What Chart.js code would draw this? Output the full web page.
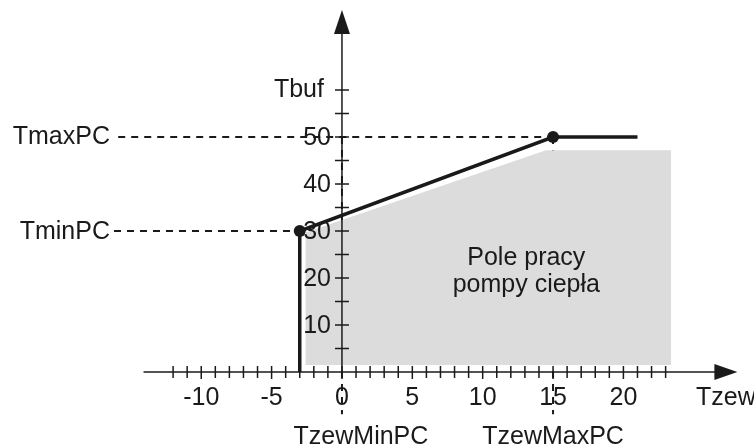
<!DOCTYPE html>
<html lang="pl">
<head>
    <meta charset="UTF-8">
    <title>Pole pracy pompy ciepła</title>
    <script src="https://cdn.jsdelivr.net/npm/chart.js"></script>
    <style>
        body { margin: 0; background: #fff; }
        #wrap { width: 754px; height: 448px; }
    </style>
</head>
<body>
    <div id="wrap">
        <canvas id="heatChart"></canvas>
    </div>

    <script>
        // values
        var xTickLabels = [-10, -5, 0, 5, 10, 15, 20];
        var yTickLabels = [10, 20, 30, 40, 50];
        var xMinorFrom = -12, xMinorTo = 23;   // one tick per degree
        var yMinorStep = 5, yMinorTo = 60;

        // heating curve: Tbuf as function of Tzew
        var curveX = [-3, -3, 15, 21];
        var curveY = [0, 30, 50, 50];

        // working area of the heat pump (grey field)
        var fieldX = [-2.6, 14.5, 23.4];
        var fieldY = [29.7, 47.2, 47.2];
        var fieldBase = 1.5;

        var tMaxPC = 50, tMinPC = 30;
        var tzewMinPC = 0, tzewMaxPC = 15;

        function pts(xs, ys) {
            return xs.map(function (x, i) { return { x: x, y: ys[i] }; });
        }

        var font = '"Liberation Sans", Arial, sans-serif';

        // axes with arrows, crossing ticks and labels
        var axesPlugin = {
            id: 'axes',
            afterDatasetsDraw: function (chart) {
                var c = chart.ctx, xs = chart.scales.x, ys = chart.scales.y;
                var x0 = xs.getPixelForValue(0), y0 = ys.getPixelForValue(0);
                c.save();
                c.strokeStyle = '#1a1a1a';
                c.fillStyle = '#1a1a1a';
                c.lineWidth = 1.5;

                // x axis
                var xa = xs.getPixelForValue(-14.1), xb = xs.getPixelForValue(28.1);
                c.beginPath(); c.moveTo(xa, y0); c.lineTo(xb - 20, y0); c.stroke();
                c.beginPath(); c.moveTo(xb, y0); c.lineTo(xb - 23, y0 - 8); c.lineTo(xb - 23, y0 + 8); c.closePath(); c.fill();
                for (var v = xMinorFrom; v <= xMinorTo; v++) {
                    var px = xs.getPixelForValue(v);
                    var len = (v % 5 === 0) ? 7 : 6;
                    c.beginPath(); c.moveTo(px, y0 - 6); c.lineTo(px, y0 + len); c.stroke();
                }

                // y axis
                var yt = ys.getPixelForValue(77);
                c.beginPath(); c.moveTo(x0, y0); c.lineTo(x0, yt + 20); c.stroke();
                c.beginPath(); c.moveTo(x0, yt); c.lineTo(x0 - 8, yt + 24); c.lineTo(x0 + 8, yt + 24); c.closePath(); c.fill();
                for (var w = yMinorStep; w <= yMinorTo; w += yMinorStep) {
                    var py = ys.getPixelForValue(w);
                    c.beginPath(); c.moveTo(x0 - 7, py); c.lineTo(x0 + 7, py); c.stroke();
                }

                // tick labels
                c.font = '25px ' + font;
                c.textBaseline = 'middle';
                c.textAlign = 'center';
                xTickLabels.forEach(function (t) {
                    c.fillText(String(t), xs.getPixelForValue(t), y0 + 26);
                });
                c.textAlign = 'right';
                yTickLabels.forEach(function (t) {
                    c.fillText(String(t), x0 - 11, ys.getPixelForValue(t) + 1);
                });
                c.fillText('Tbuf', x0 - 18, ys.getPixelForValue(60));
                c.textAlign = 'left';
                c.fillText('Tzew', 696, y0 + 26);

                // parameter names
                c.textAlign = 'right';
                c.fillText('TmaxPC', 110, ys.getPixelForValue(tMaxPC));
                c.fillText('TminPC', 110, ys.getPixelForValue(tMinPC) + 1);
                c.textAlign = 'center';
                c.fillText('TzewMinPC', xs.getPixelForValue(tzewMinPC) + 19, y0 + 65);
                c.fillText('TzewMaxPC', xs.getPixelForValue(tzewMaxPC), y0 + 65);

                // field caption
                var cx = xs.getPixelForValue(13.1);
                c.fillText('Pole pracy', cx, ys.getPixelForValue(24.2));
                c.fillText('pompy ciepła', cx, ys.getPixelForValue(18.4));
                c.restore();
            }
        };

        var dash = {
            showLine: true, borderColor: '#1a1a1a', borderWidth: 2,
            borderDash: [7, 6], pointRadius: 0, fill: false
        };

        var ctx = document.getElementById('heatChart').getContext('2d');
        var heatChart = new Chart(ctx, {
            type: 'scatter',
            data: {
                datasets: [
                    {
                        data: pts(fieldX, fieldY),
                        showLine: true,
                        borderWidth: 0,
                        borderColor: 'rgba(0,0,0,0)',
                        backgroundColor: '#dcdcdc',
                        pointRadius: 0,
                        fill: { value: fieldBase }
                    },
                    Object.assign({ data: pts([-15.9, tzewMaxPC], [tMaxPC, tMaxPC]) }, dash),
                    Object.assign({ data: pts([-16.2, curveX[1]], [tMinPC, tMinPC]) }, dash),
                    Object.assign({ data: pts([tzewMaxPC, tzewMaxPC], [tMaxPC, -9]) }, dash),
                    Object.assign({ data: pts([tzewMinPC, tzewMinPC], [tMaxPC, -9]) }, dash),
                    {
                        data: pts(curveX, curveY),
                        showLine: true,
                        borderColor: '#1a1a1a',
                        borderWidth: 3.5,
                        pointRadius: [0, 6, 6, 0],
                        pointBackgroundColor: '#1a1a1a',
                        pointBorderWidth: 0,
                        fill: false
                    }
                ]
            },
            options: {
                responsive: true,
                maintainAspectRatio: false,
                animation: false,
                layout: { padding: 0 },
                plugins: { legend: { display: false }, tooltip: { enabled: false } },
                scales: {
                    x: { type: 'linear', display: false, min: -24.3, max: 29.28 },
                    y: { type: 'linear', display: false, min: -16.17, max: 79.15 }
                }
            },
            plugins: [axesPlugin]
        });
    </script>
</body>
</html>
